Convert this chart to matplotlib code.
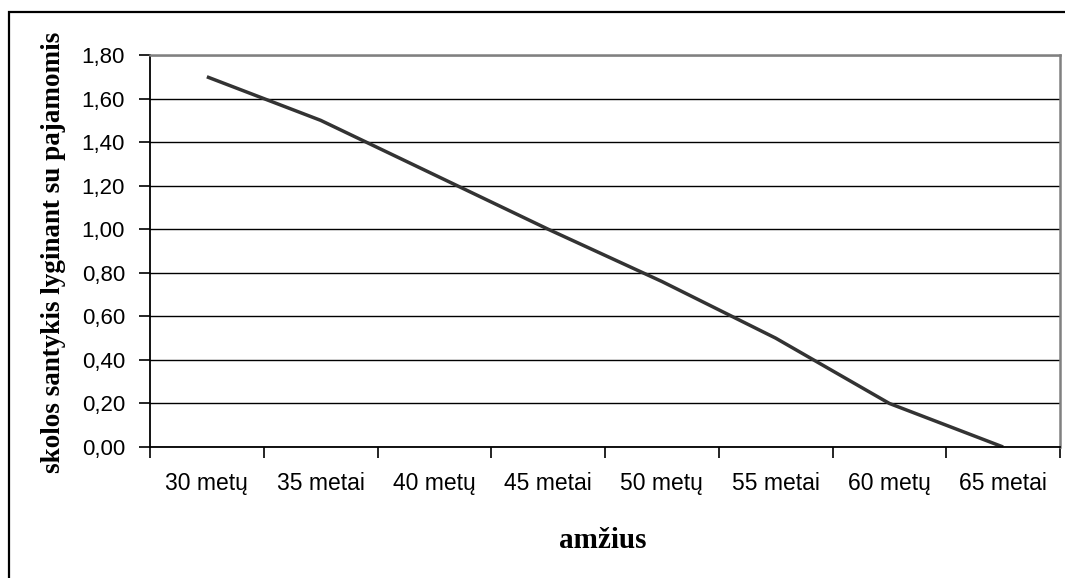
import matplotlib.pyplot as plt
from matplotlib.patches import Rectangle
from matplotlib.ticker import FixedLocator, FuncFormatter

amzius = ['30 metų', '35 metai', '40 metų', '45 metai',
          '50 metų', '55 metai', '60 metų', '65 metai']
santykis = [1.70, 1.50, 1.25, 1.00, 0.76, 0.50, 0.20, 0.00]
y_ticks = [0.0, 0.2, 0.4, 0.6, 0.8, 1.0, 1.2, 1.4, 1.6, 1.8]

W, H = 1065, 578
fig = plt.figure(figsize=(W / 100, H / 100), dpi=100)

# outer frame of the chart area
fig.patches.append(Rectangle((9 / W, -0.1), 1.2, 1.1 - 12 / H,
                             transform=fig.transFigure, fill=False,
                             edgecolor='black', linewidth=1.6))

ax = fig.add_axes([150 / W, (H - 447) / H, (1060 - 150) / W, (447 - 55) / H])

x = [i + 0.5 for i in range(len(amzius))]
ax.plot(x, santykis, '-', color='#333333', linewidth=2.5, solid_capstyle='butt')

ax.set_xlim(0, len(amzius))
ax.set_ylim(0, 1.8)

# category boundaries get tick marks, labels sit in the middle
ax.xaxis.set_major_locator(FixedLocator(range(len(amzius) + 1)))
ax.xaxis.set_major_formatter(FuncFormatter(lambda v, p: ''))
ax.xaxis.set_minor_locator(FixedLocator(x))
ax.set_xticklabels(amzius, minor=True)
ax.tick_params(axis='x', which='major', length=8, width=1.2, direction='out')
ax.tick_params(axis='x', which='minor', length=0, pad=18,
               labelsize=16.5, labelfontfamily='Liberation Sans')

ax.set_yticks(y_ticks)
ax.set_yticklabels([f'{v:.2f}'.replace('.', ',') for v in y_ticks])
ax.tick_params(axis='y', length=8, width=1.2, direction='out', pad=10,
               labelsize=16, labelfontfamily='Liberation Sans')

ax.grid(axis='y', color='black', linewidth=1.0)
ax.set_axisbelow(True)

for side in ['left', 'bottom']:
    ax.spines[side].set_color('black')
    ax.spines[side].set_linewidth(1.3)
for side in ['top', 'right']:
    ax.spines[side].set_color('#808080')
    ax.spines[side].set_linewidth(1.8)

fig.text(54 / W, 1 - 252 / H, 'skolos santykis lyginant su pajamomis',
         rotation=90, ha='center', va='center', fontsize=19.5,
         fontweight='bold', family='Liberation Serif')
fig.text(603 / W, 1 - 540 / H, 'amžius', ha='center', va='center',
         fontsize=21, fontweight='bold', family='Liberation Serif')

plt.savefig('out.png', dpi=100)
